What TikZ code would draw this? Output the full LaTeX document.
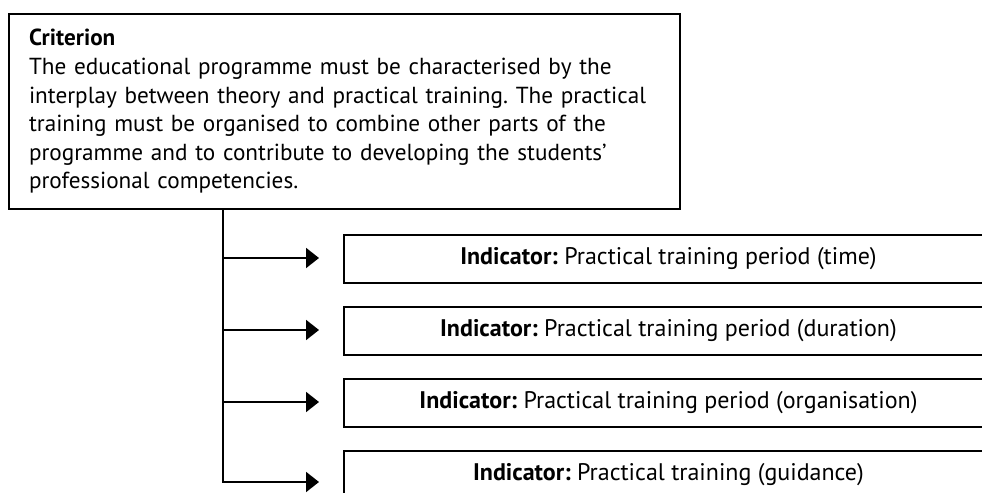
\documentclass[tikz,border=0pt]{standalone}
\usepackage{fontspec}
\setmainfont{PT Sans}
\usetikzlibrary{arrows.meta,positioning}
\frenchspacing

\tikzset{
  critbox/.style={draw, line width=1pt, rectangle, anchor=north west,
    minimum width=335.5pt, minimum height=97.5pt, inner xsep=10pt,
    text width=315.5pt, align=left, font=\fontsize{11.6}{14.3}\selectfont},
  indbox/.style={draw, line width=1pt, rectangle, anchor=north west,
    minimum width=324.5pt, minimum height=24pt,
    font=\fontsize{12}{14.3}\selectfont},
  feed/.style={line width=1pt, -{Triangle[length=6.5pt,width=10pt]}}
}

\begin{document}
\begin{tikzpicture}[x=0.5pt,y=-0.5pt]
  \clip (0,0) rectangle (982,493);

  \node [critbox] (crit) at (8,13) {\textbf{Criterion}\\
    The educational programme must be characterised by the\\
    interplay between theory and practical training. The practical\\
    training must be organised to combine other parts of the\\
    programme and to contribute to developing the students’\\
    professional competencies.};

  \node [indbox] (ind1) at (343,234) {\textbf{Indicator:} Practical training period (time)};
  \node [indbox] (ind2) at (343,306) {\textbf{Indicator:} Practical training period (duration)};
  \node [indbox] (ind3) at (343,378) {\textbf{Indicator:} Practical training period (organisation)};
  \node [indbox] (ind4) at (343,450) {\textbf{Indicator:} Practical training (guidance)};

  \coordinate (trunk) at (223,208);
  \coordinate (tip1) at (319,258);
  \coordinate (tip2) at (319,330);
  \coordinate (tip3) at (319,402);
  \coordinate (tip4) at (319,482);

  \draw [feed] (trunk |- tip1) -- (tip1);
  \draw [feed] (trunk |- tip2) -- (tip2);
  \draw [feed] (trunk |- tip3) -- (tip3);
  \draw [feed] (trunk) |- (tip4);
\end{tikzpicture}
\end{document}
